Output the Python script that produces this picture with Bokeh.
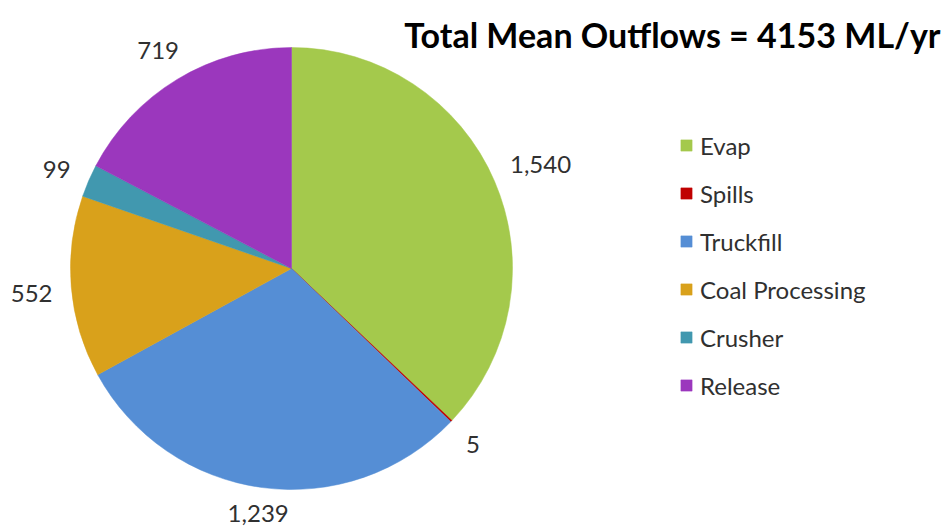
import numpy as np
from bokeh.plotting import figure
from bokeh.models import ColumnDataSource, Legend, LegendItem, Label, Range1d
from bokeh.core.properties import value
from bokeh.embed import file_html
from bokeh.resources import INLINE

# ---- data ----
categories = ["Evap", "Spills", "Truckfill", "Coal Processing", "Crusher", "Release"]
outflows = [1540, 5, 1239, 552, 99, 719]
label_texts = ["1,540", "5", "1,239", "552", "99", "719"]
colors = ["#A4C94C", "#C00000", "#558ED5", "#D9A11B", "#4198AF", "#9B37BD"]
title_text = "Total Mean Outflows = 4153 ML/yr"

# ---- layout ----
W, H = 948, 529
CX, CY, R = 291, 529 - 268, 221
FONT = "Lato"
FS = 24          # label font size (px)
GAP = 19         # gap between pie edge and label box

vals = np.array(outflows, dtype=float)
frac = vals / vals.sum()
cum_end = np.cumsum(frac)
cum_start = cum_end - frac
start = np.pi / 2 - 2 * np.pi * cum_start
end = np.pi / 2 - 2 * np.pi * cum_end
mid = (start + end) / 2

# approximate label box half-sizes to place the box just outside the pie
half_w = np.array([sum(0.27 * FS if ch == "," else 0.56 * FS for ch in t) / 2 for t in label_texts])
half_h = 0.36 * FS
c, s = np.cos(mid), np.sin(mid)
dist = R + GAP + np.abs(c) * half_w + np.abs(s) * half_h
lx = CX + dist * c
ly = CY + dist * s - 3
ly = np.maximum(ly, 16)   # keep labels inside the page

src = ColumnDataSource(dict(cat=categories, v=outflows, start=start, end=end,
                            color=colors, lx=lx, ly=ly, lab=label_texts))

p = figure(width=W, height=H, output_backend="svg", toolbar_location=None,
           x_range=Range1d(0, W), y_range=Range1d(0, H), min_border=0)
p.axis.visible = False
p.grid.visible = False
p.outline_line_color = None
p.background_fill_color = "white"

r = p.wedge(x=CX, y=CY, radius=R, start_angle="start", end_angle="end",
            direction="clock", fill_color="color", line_color="color", line_width=0.5,
            source=src)

p.text(x="lx", y="ly", text="lab", source=src, text_align="center", text_baseline="middle",
       text_font=value(FONT), text_font_size=f"{FS}px", text_color="#303030")

items = [LegendItem(label=c_, renderers=[r], index=i) for i, c_ in enumerate(categories)]
legend = Legend(items=items, location=(679, 129), glyph_width=14, glyph_height=14,
                label_text_font=FONT, label_text_font_size="24px", label_text_color="#303030",
                label_height=30, label_standoff=7, spacing=18, padding=0, margin=0,
                border_line_color=None, background_fill_alpha=0)
p.add_layout(legend, "center")

p.add_layout(Label(x=940, y=529 - 34, x_units="screen", y_units="screen", text=title_text,
                   text_align="right", text_baseline="alphabetic", text_font=FONT,
                   text_font_size="34px", text_font_style="bold", text_color="black"))

open("out.html", "w").write(file_html(p, INLINE))
